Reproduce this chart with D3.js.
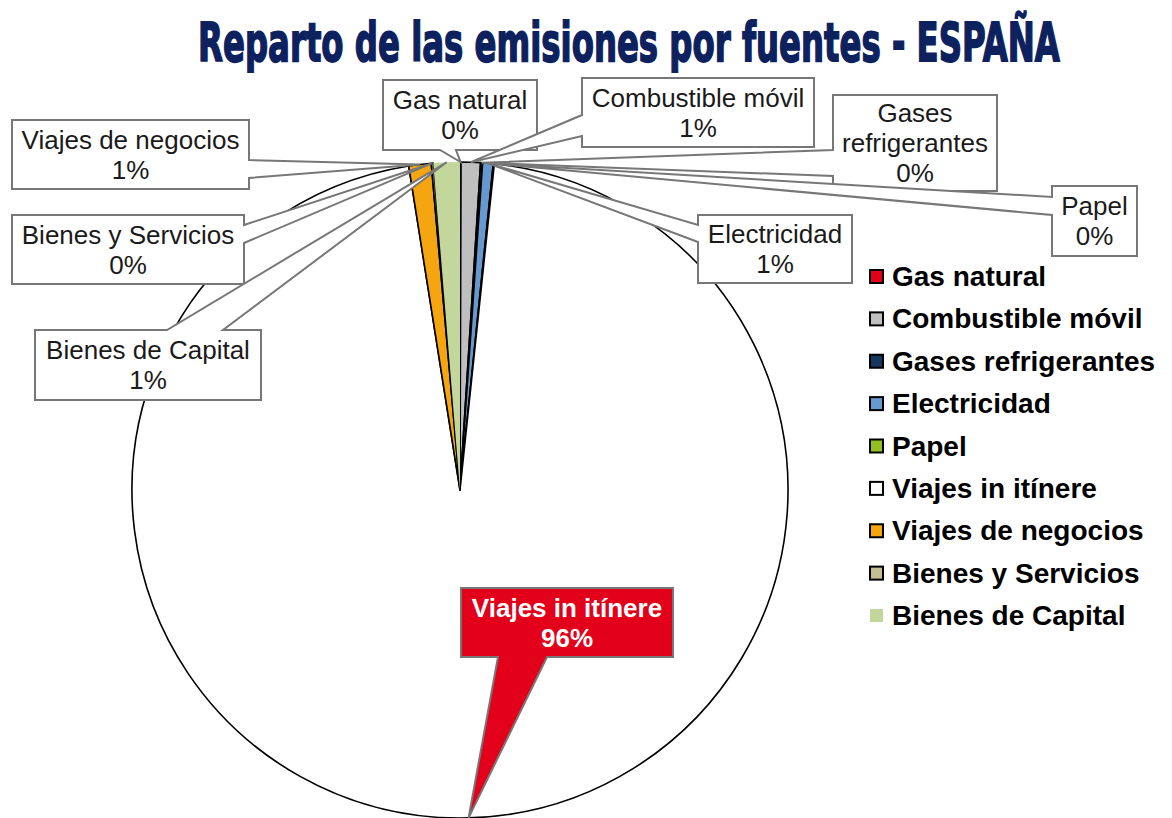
<!DOCTYPE html>
<html>
<head>
<meta charset="utf-8">
<script src="https://cdn.jsdelivr.net/npm/d3@7"></script>
<style>
  body { margin: 0; background: #fff; }
  svg { display: block; }
</style>
</head>
<body>
<div id="chart"></div>
<script>
// datos del gráfico
const fuentes = ["Gas natural", "Combustible móvil", "Gases refrigerantes", "Electricidad", "Papel",
  "Viajes in itínere", "Viajes de negocios", "Bienes y Servicios", "Bienes de Capital"];
const emisiones = [0.05, 0.95, 0.1, 0.52, 0.05, 95.9, 1.1, 0.1, 1.3];
const colores = ["#e2001a", "#bfbfbf", "#17375e", "#6599cf", "#93c01f", "#ffffff", "#f5a50f", "#c4bd90", "#c3d69b"];
const titulo = "Reparto de las emisiones por fuentes - ESPAÑA";

// cajas de etiquetas (x, y, ancho, alto, lado del puntero, base del puntero)
const cajas = {
  "Gas natural":        { x: 383, y: 80,  w: 154, h: 70, side: "bottom", b: [440, 456] },
  "Combustible móvil":  { x: 582, y: 78,  w: 232, h: 69, side: "left",   b: [115, 136] },
  "Gases refrigerantes":{ x: 833, y: 95,  w: 164, h: 96, side: "left",   b: [150, 176] },
  "Electricidad":       { x: 698, y: 215, w: 154, h: 68, side: "left",   b: [225, 242] },
  "Papel":              { x: 1052, y: 186, w: 85, h: 70, side: "left",   b: [197, 215] },
  "Viajes in itínere":  { x: 461, y: 588, w: 212, h: 69, side: "bottom", b: [498, 547], destacado: true },
  "Viajes de negocios": { x: 12,  y: 120, w: 237, h: 69, side: "right",  b: [160, 178] },
  "Bienes y Servicios": { x: 12,  y: 215, w: 232, h: 69, side: "right",  b: [225, 243] },
  "Bienes de Capital":  { x: 35,  y: 330, w: 226, h: 70, side: "top",    b: [167, 223] }
};
// dos líneas en "Gases refrigerantes"
const lineasEtiqueta = { "Gases refrigerantes": ["Gases", "refrigerantes"] };

const width = 1172, height = 818;
const cx = 460, cy = 490, radio = 328;

const svg = d3.select("#chart").append("svg")
  .attr("width", width)
  .attr("height", height);

svg.append("rect").attr("width", width).attr("height", height).attr("fill", "#fff");

// título (fuente estrechada con escala horizontal)
const gTitulo = svg.append("g");
const tTitulo = gTitulo.append("text")
  .attr("x", 0)
  .attr("y", 0)
  .attr("text-anchor", "middle")
  .style("font-family", "'DejaVu Sans', sans-serif")
  .style("font-weight", "bold")
  .style("font-size", "54px")
  .style("fill", "#0c215e")
  .style("stroke", "#0c215e")
  .style("stroke-width", 1.8)
  .text(titulo);
const anchoNatural = tTitulo.node().getComputedTextLength();
gTitulo.attr("transform", `translate(629, 61) scale(${862 / anchoNatural}, 1)`);

const datos = fuentes.map((f, i) => ({ fuente: f, valor: emisiones[i] }));
const total = d3.sum(emisiones);
const pct = d3.format(".0%");

const color = d3.scaleOrdinal().domain(fuentes).range(colores);

const pie = d3.pie().sort(null).value(d => d.valor);
const arcos = pie(datos);
const arc = d3.arc().innerRadius(0).outerRadius(radio);

const gPie = svg.append("g").attr("transform", `translate(${cx},${cy})`);

gPie.selectAll("path.slice")
  .data(arcos)
  .enter()
  .append("path")
  .attr("class", "slice")
  .attr("d", arc)
  .attr("fill", d => color(d.data.fuente))
  .attr("stroke", d => d.data.fuente === "Bienes de Capital" ? "none" : "#000")
  .attr("stroke-width", 1.6)
  .attr("stroke-linejoin", "round");

// forma de la etiqueta: rectángulo con puntero hacia la porción
function formaCallout(c, tip) {
  const x0 = c.x, y0 = c.y, x1 = c.x + c.w, y1 = c.y + c.h;
  const [b1, b2] = c.b;
  let pts;
  if (c.side === "top")
    pts = [[x0, y0], [b1, y0], tip, [b2, y0], [x1, y0], [x1, y1], [x0, y1]];
  else if (c.side === "right")
    pts = [[x0, y0], [x1, y0], [x1, b1], tip, [x1, b2], [x1, y1], [x0, y1]];
  else if (c.side === "bottom")
    pts = [[x0, y0], [x1, y0], [x1, y1], [b2, y1], tip, [b1, y1], [x0, y1]];
  else
    pts = [[x0, y0], [x1, y0], [x1, y1], [x0, y1], [x0, b2], tip, [x0, b1]];
  return d3.line()(pts) + "Z";
}

const gLabels = svg.append("g");

arcos.forEach(d => {
  const c = cajas[d.data.fuente];
  const a = (d.startAngle + d.endAngle) / 2;
  const tip = [cx + radio * Math.sin(a), cy - radio * Math.cos(a)];

  gLabels.append("path")
    .attr("d", formaCallout(c, tip))
    .attr("fill", c.destacado ? "#e2001a" : "#fff")
    .attr("stroke", "#777")
    .attr("stroke-width", 2)
    .attr("stroke-linejoin", "miter");

  const lineas = (lineasEtiqueta[d.data.fuente] || [d.data.fuente]).concat([pct(d.data.valor / total)]);
  const paso = 30;
  const mid = c.y + c.h / 2;
  const t = gLabels.append("text")
    .attr("text-anchor", "middle")
    .style("font-family", "'Liberation Sans', Arial, sans-serif")
    .style("font-size", "26px")
    .style("font-weight", c.destacado ? "bold" : "normal")
    .style("fill", c.destacado ? "#fff" : "#1a1a1a");
  lineas.forEach((l, i) => {
    t.append("tspan")
      .attr("x", c.x + c.w / 2)
      .attr("y", mid + (i - (lineas.length - 1) / 2) * paso + 9)
      .text(l);
  });
});

// leyenda
const yLeyenda = d3.scalePoint().domain(fuentes).range([276, 615]);

const leyenda = svg.append("g").selectAll("g")
  .data(fuentes)
  .enter()
  .append("g")
  .attr("transform", d => `translate(869, ${yLeyenda(d)})`);

leyenda.append("rect")
  .attr("x", 1)
  .attr("y", -6)
  .attr("width", 13)
  .attr("height", 13)
  .attr("fill", d => color(d))
  .attr("stroke", d => d === "Bienes de Capital" ? "none" : "#000")
  .attr("stroke-width", 2);

leyenda.append("text")
  .attr("x", 23)
  .attr("y", 10)
  .style("font-family", "'Liberation Sans', Arial, sans-serif")
  .style("font-weight", "bold")
  .style("font-size", "28px")
  .style("fill", "#000")
  .text(d => d);
</script>
</body>
</html>
